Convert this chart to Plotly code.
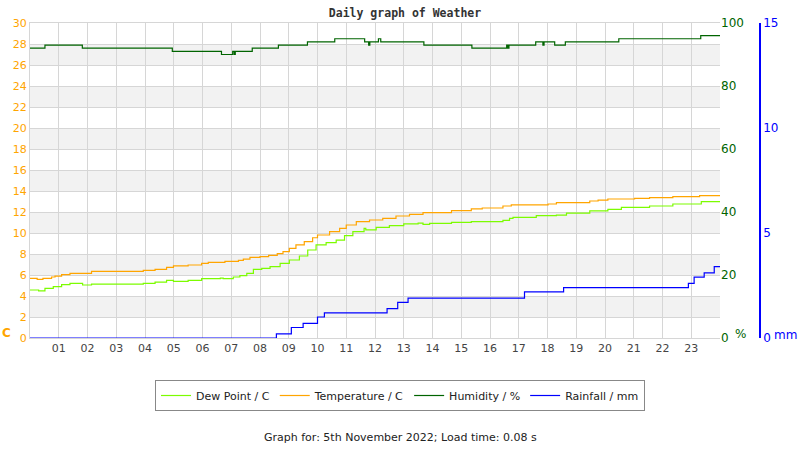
import plotly.graph_objects as go

# ---------------- data (hours of the day, values) ----------------
hour_ticks = list(range(1, 24))
hour_labels = [f"{h:02d}" for h in hour_ticks]

temp_t = [0, 0.25, 0.45, 0.75, 0.87, 1.1, 1.39, 2.14, 3.94, 4.35,
          4.75, 4.99, 5.5, 5.97, 6.2, 6.78, 7.25, 7.42, 7.65, 8.0,
          8.3, 8.6, 8.8, 9.02, 9.25, 9.54, 9.83, 10.0, 10.42, 10.77,
          11.0, 11.35, 11.81, 12.27, 12.73, 13.2, 13.67, 14.66, 15.35, 15.73,
          16.45, 16.74, 18.02, 18.31, 19.47, 19.76, 20.1, 21.03, 21.55, 22.36,
          23.29, 24]
temp_v = [5.68, 5.59, 5.68, 5.81, 5.9, 6.03, 6.16, 6.35, 6.44, 6.54,
          6.73, 6.86, 6.95, 7.11, 7.21, 7.3, 7.4, 7.52, 7.68, 7.75,
          7.87, 8.03, 8.22, 8.54, 8.86, 9.17, 9.55, 9.81, 10.13, 10.44,
          10.76, 11.08, 11.24, 11.4, 11.62, 11.78, 11.94, 12.13, 12.29, 12.38,
          12.57, 12.67, 12.76, 12.89, 13.05, 13.14, 13.24, 13.3, 13.37, 13.46,
          13.56, 13.56]

dew_t = [0, 0.3, 0.52, 0.81, 1.1, 1.39, 1.83, 2.14, 3.94, 4.35,
         4.75, 4.99, 5.5, 5.97, 6.62, 6.72, 7.07, 7.3, 7.54, 7.77,
         8.06, 8.35, 8.7, 9.02, 9.37, 9.66, 9.95, 10.3, 10.65, 10.94,
         11.23, 11.62, 11.68, 12.04, 12.5, 13.0, 13.5, 13.67, 13.9, 14.66,
         15.35, 16.45, 16.68, 16.8, 17.61, 18.31, 18.66, 19.47, 20.1, 20.57,
         21.55, 22.36, 23.35, 24]
dew_v = [4.57, 4.48, 4.73, 4.89, 5.08, 5.21, 5.05, 5.14, 5.21, 5.33,
         5.49, 5.4, 5.49, 5.65, 5.71, 5.65, 5.81, 5.94, 6.16, 6.54,
         6.63, 6.79, 7.1, 7.43, 7.81, 8.38, 8.86, 9.08, 9.33, 9.75,
         10.13, 10.45, 10.29, 10.54, 10.7, 10.86, 10.95, 10.83, 10.92, 11.02,
         11.08, 11.21, 11.4, 11.49, 11.65, 11.71, 11.9, 12.1, 12.25, 12.44,
         12.57, 12.76, 12.98, 12.98]

hum_t = [0, 0.52, 1.82, 4.95, 6.66, 7.05, 7.1, 7.14, 7.73, 8.64,
         9.65, 10.6, 11.64, 11.78, 11.82, 12.12, 12.2, 13.7, 15.37, 16.58,
         16.62, 16.66, 17.59, 17.84, 17.88, 18.25, 18.62, 20.48, 23.33, 24]
hum_v = [92, 93, 92, 91, 90, 91, 90, 91, 92, 93,
         94, 95, 94, 93, 94, 95, 94, 93, 92, 93,
         92, 93, 94, 93, 94, 93, 94, 95, 96, 96]

rain_t = [0, 8.57, 9.09, 9.5, 10.0, 10.24, 12.42, 12.79, 13.15, 17.2,
          18.56, 22.9, 23.1, 23.45, 23.8, 24]
rain_v = [0, 0.2, 0.5, 0.7, 1.0, 1.2, 1.4, 1.7, 1.9, 2.2,
          2.4, 2.6, 2.9, 3.1, 3.4, 3.4]

assert len(temp_t) == len(temp_v) and len(dew_t) == len(dew_v)
assert len(hum_t) == len(hum_v) and len(rain_t) == len(rain_v)

# ---------------- figure ----------------
FONT = "DejaVu Sans"
GRID = "#d6d6d6"

fig = go.Figure()
fig.add_trace(go.Scatter(x=dew_t, y=dew_v, name="Dew Point / C", mode="lines",
                         line=dict(color="#7cfc00", width=1.2, shape="hv")))
fig.add_trace(go.Scatter(x=temp_t, y=temp_v, name="Temperature / C", mode="lines",
                         line=dict(color="#ffa500", width=1.2, shape="hv")))
fig.add_trace(go.Scatter(x=hum_t, y=hum_v, name="Humidity / %", mode="lines", yaxis="y2",
                         line=dict(color="#006400", width=1.2, shape="hv")))
fig.add_trace(go.Scatter(x=rain_t, y=rain_v, name="Rainfall / mm", mode="lines", yaxis="y3",
                         line=dict(color="#0000ff", width=1.2, shape="hv")))

L, R, T, B = 30, 20, 23, 112
PW = 800 - L - R          # 750
PH = 450 - T - B          # 315
xdom = 690 / PW

def px_x(px):
    return (px - L) / PW

def px_y(py):
    return (450 - B - py) / PH

shapes = []
for lo in range(2, 28, 4):
    shapes.append(dict(type="rect", xref="x", yref="y", x0=0, x1=24, y0=lo, y1=lo + 2,
                       fillcolor="#f2f2f2", line=dict(width=0), layer="below"))

fig.update_layout(
    width=800, height=450,
    margin=dict(l=L, r=R, t=T, b=B),
    paper_bgcolor="white", plot_bgcolor="white",
    font=dict(family=FONT, size=11, color="#333"),
    title=dict(text="<b>Daily graph of Weather</b>", x=0.5, xref="paper", xanchor="center",
               y=1 - 13 / 450, yanchor="middle",
               font=dict(family="DejaVu Sans Mono", size=11.5, color="#333")),
    xaxis=dict(domain=[0, xdom], range=[0, 24], tickmode="array", tickvals=hour_ticks,
               ticktext=hour_labels, showgrid=True, gridcolor=GRID, gridwidth=1,
               showline=True, linecolor=GRID, mirror=True, zeroline=False, ticks="",
               tickfont=dict(size=11, color="#444"), fixedrange=True),
    yaxis=dict(range=[0, 30], dtick=2, showgrid=True, gridcolor=GRID, zeroline=False,
               showline=True, linecolor=GRID, ticks="",
               tickfont=dict(size=11, color="#ffa500")),
    yaxis2=dict(range=[0, 100], dtick=20, overlaying="y", side="right", anchor="x",
                showgrid=False, zeroline=False, ticks="",
                tickfont=dict(size=12, color="#006400")),
    yaxis3=dict(range=[0, 15], dtick=5, overlaying="y", side="right", anchor="free",
                position=px_x(760), showgrid=False, zeroline=False, showline=True,
                linecolor="#0000ff", linewidth=1.5, ticks="",
                tickfont=dict(size=12, color="#0000ff")),
    shapes=shapes,
    showlegend=True,
    legend=dict(orientation="h", x=px_x(400), xanchor="center", y=px_y(380), yanchor="top",
                xref="paper", yref="paper",
                bordercolor="#888", borderwidth=1, bgcolor="white",
                font=dict(family=FONT, size=11, color="#222"),
                itemwidth=30, tracegroupgap=0),
    annotations=[
        dict(text="<b>C</b>", xref="paper", yref="paper", x=px_x(6), y=px_y(333),
             showarrow=False, xanchor="center", yanchor="middle",
             font=dict(family=FONT, size=12, color="#ffa500")),
        dict(text="%", xref="paper", yref="paper", x=px_x(740), y=px_y(334),
             showarrow=False, xanchor="center", yanchor="middle",
             font=dict(family=FONT, size=12, color="#006400")),
        dict(text="mm", xref="paper", yref="paper", x=px_x(785), y=px_y(335),
             showarrow=False, xanchor="center", yanchor="middle",
             font=dict(family=FONT, size=12, color="#0000ff")),
        dict(text="Graph for: 5th November 2022; Load time: 0.08 s", xref="paper", yref="paper",
             x=px_x(400), y=px_y(437), showarrow=False, xanchor="center", yanchor="middle",
             font=dict(family=FONT, size=11, color="#222")),
    ],
)

fig.write_html("out.html")
